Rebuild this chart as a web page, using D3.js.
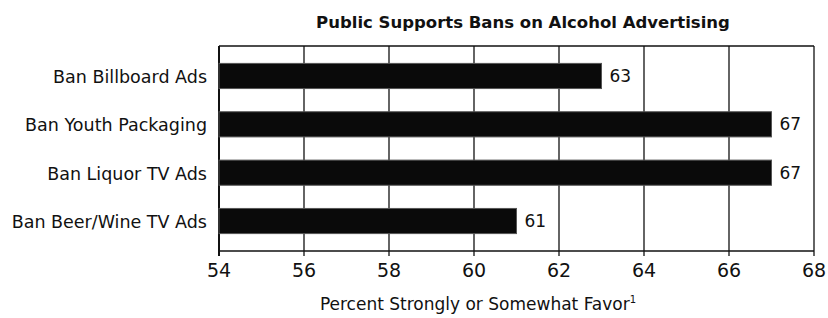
<!DOCTYPE html>
<html>
<head>
<meta charset="utf-8">
<script src="https://cdn.jsdelivr.net/npm/d3@7"></script>
<style>
  body { margin: 0; background: #fff; }
  text { font-family: "DejaVu Sans", sans-serif; fill: #111; }
</style>
</head>
<body>
<div id="chart"></div>
<script>
// les données
var categories = ["Ban Billboard Ads", "Ban Youth Packaging", "Ban Liquor TV Ads", "Ban Beer/Wine TV Ads"];
var values = [63, 67, 67, 61];
var tickValues = [54, 56, 58, 60, 62, 64, 66, 68];

var width = 828,
    height = 318;

var margin = { top: 46, right: 14, bottom: 67, left: 219 };

var svg = d3.select("#chart")
    .append("svg")
    .attr("width", width)
    .attr("height", height);

var x = d3.scaleLinear()
    .domain([54, 68])
    .range([margin.left, width - margin.right]);

var y = d3.scaleBand()
    .domain(categories)
    .range([margin.top, height - margin.bottom])
    .paddingInner(0.48)
    .paddingOuter(0.36);

// titre
svg.append("text")
    .attr("x", 523)
    .attr("y", 28)
    .attr("text-anchor", "middle")
    .style("font-size", "16.5px")
    .style("font-weight", "bold")
    .text("Public Supports Bans on Alcohol Advertising");

// lignes verticales de la grille
svg.append("g")
    .selectAll("line")
    .data(tickValues)
    .join("line")
    .attr("x1", function (d) { return x(d); })
    .attr("x2", function (d) { return x(d); })
    .attr("y1", margin.top)
    .attr("y2", height - margin.bottom + 5)
    .attr("stroke", "#111")
    .attr("stroke-width", function (d, i) { return i === 0 ? 2 : 1.3; });

// cadre du haut et du bas
svg.append("line")
    .attr("x1", x(54)).attr("x2", x(68))
    .attr("y1", margin.top).attr("y2", margin.top)
    .attr("stroke", "#111").attr("stroke-width", 1.5);

svg.append("line")
    .attr("x1", x(54)).attr("x2", x(68))
    .attr("y1", height - margin.bottom).attr("y2", height - margin.bottom)
    .attr("stroke", "#111").attr("stroke-width", 1.5);

// les barres
svg.append("g")
    .selectAll("rect")
    .data(values)
    .join("rect")
    .attr("x", x(54))
    .attr("y", function (d, i) { return y(categories[i]); })
    .attr("width", function (d) { return x(d) - x(54); })
    .attr("height", y.bandwidth())
    .attr("fill", "#0a0a0a")
    .attr("stroke", "#555")
    .attr("stroke-width", 1);

// valeurs au bout des barres
svg.append("g")
    .selectAll("text")
    .data(values)
    .join("text")
    .attr("x", function (d) { return x(d) + 8; })
    .attr("y", function (d, i) { return y(categories[i]) + y.bandwidth() / 2 + 6; })
    .style("font-size", "17px")
    .text(function (d) { return d; });

// étiquettes des catégories
svg.append("g")
    .selectAll("text")
    .data(categories)
    .join("text")
    .attr("x", 207)
    .attr("y", function (d) { return y(d) + y.bandwidth() / 2 + 7; })
    .attr("text-anchor", "end")
    .style("font-size", "17.5px")
    .text(function (d) { return d; });

// étiquettes de l'axe x
svg.append("g")
    .selectAll("text")
    .data(tickValues)
    .join("text")
    .attr("x", function (d) { return x(d); })
    .attr("y", 277)
    .attr("text-anchor", "middle")
    .style("font-size", "19px")
    .text(function (d) { return d; });

// titre de l'axe
var axisTitle = svg.append("text")
    .attr("x", 478)
    .attr("y", 310)
    .attr("text-anchor", "middle")
    .style("font-size", "17px")
    .text("Percent Strongly or Somewhat Favor");

axisTitle.append("tspan")
    .attr("dy", -7)
    .style("font-size", "10px")
    .text("1");
</script>
</body>
</html>
